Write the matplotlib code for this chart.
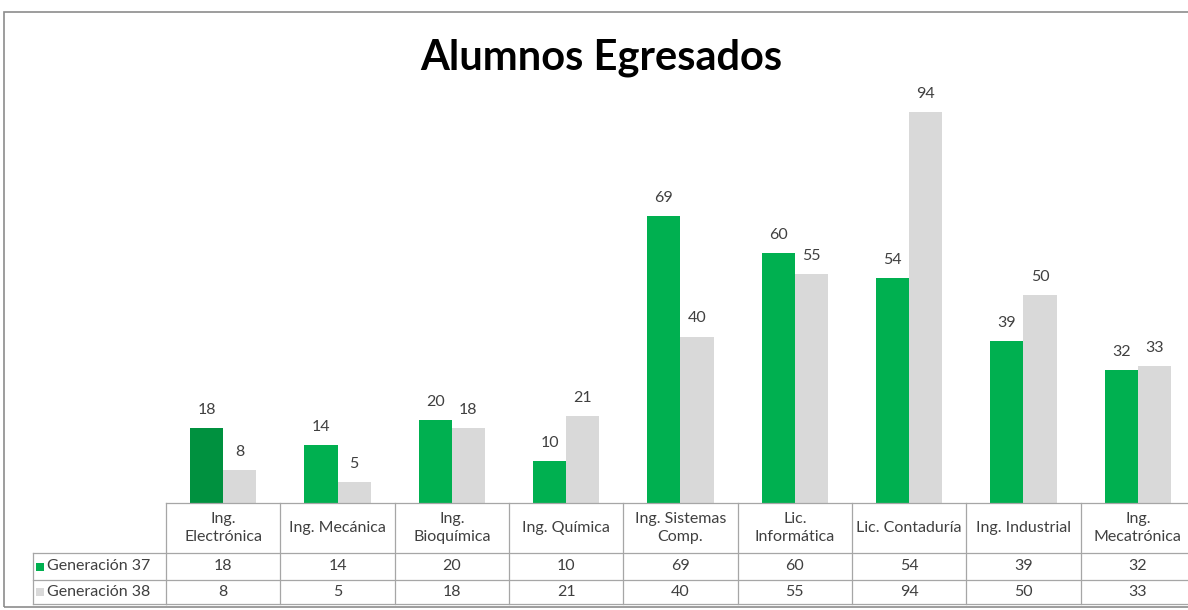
import matplotlib
matplotlib.use("Agg")
import matplotlib.pyplot as plt
from matplotlib.patches import Rectangle
import matplotlib.transforms as mtransforms

categories = ["Ing.\nElectrónica", "Ing. Mecánica", "Ing.\nBioquímica", "Ing. Química",
              "Ing. Sistemas\nComp.", "Lic.\nInformática", "Lic. Contaduría",
              "Ing. Industrial", "Ing.\nMecatrónica"]
series_names = ["Generación 37", "Generación 38"]
gen37 = [18, 14, 20, 10, 69, 60, 54, 39, 32]
gen38 = [8, 5, 18, 21, 40, 55, 94, 50, 33]

GREEN = "#00B050"
GREEN_SEL = "#00913F"
GRAY = "#D9D9D9"
LINE = "#A6A6A6"
TXT = "#404040"
FONT = "Lato"

W, H = 1188, 610
fig = plt.figure(figsize=(W / 100, H / 100), dpi=100)

def fx(px):
    return px / W

def fy(py):
    return 1 - py / H

# chart border
fig.patches.append(Rectangle((fx(4), fy(607)), fx(1300), fy(12) - fy(607),
                             transform=fig.transFigure, fill=False,
                             edgecolor="#8C8C8C", linewidth=1.2))

left, right, top, bottom = 166, 1195, 87, 503
ax = fig.add_axes([fx(left), fy(bottom), fx(right - left), fy(top) - fy(bottom)])
n = len(categories)
ax.set_xlim(-0.5, n - 0.5)
ax.set_ylim(0, 100)
ax.axis("off")

bw = 0.29
x = list(range(n))
b1 = ax.bar([i - bw / 2 for i in x], gen37, width=bw, color=GREEN, linewidth=0)
b1[0].set_color(GREEN_SEL)
b2 = ax.bar([i + bw / 2 for i in x], gen38, width=bw, color=GRAY, linewidth=0)
for bars, vals in ((b1, gen37), (b2, gen38)):
    for r, v in zip(bars, vals):
        ax.annotate(str(v), (r.get_x() + r.get_width() / 2, v), xytext=(0, 8),
                    textcoords="offset points", ha="center", va="bottom",
                    fontsize=11.5, color=TXT, family=FONT)

fig.text(0.5 * (422 + 780) / W, fy(58), "Alumnos Egresados", ha="center", va="center",
         fontsize=30, fontweight="bold", color="black", family=FONT)

# data table
trans = mtransforms.blended_transform_factory(ax.transData, fig.transFigure)
y_hdr_top, y_r1, y_r2, y_bot = 503, 553, 580, 604
lw = 0.9
for yy in (y_hdr_top, y_r1, y_r2, y_bot):
    ax.plot([-0.5, n - 0.5], [fy(yy), fy(yy)], transform=trans, color=LINE,
            linewidth=lw, clip_on=False)
for yy in (y_r1, y_r2, y_bot):
    fig.add_artist(plt.Line2D([fx(33), fx(left)], [fy(yy), fy(yy)],
                              transform=fig.transFigure, color=LINE, linewidth=lw))
fig.add_artist(plt.Line2D([fx(33), fx(33)], [fy(y_r1), fy(y_bot)],
                          transform=fig.transFigure, color=LINE, linewidth=lw))
for k in range(n + 1):
    ax.plot([k - 0.5, k - 0.5], [fy(y_hdr_top), fy(y_bot)], transform=trans,
            color=LINE, linewidth=lw, clip_on=False)

TS = 11.5
for i, c in enumerate(categories):
    ax.text(i, fy((y_hdr_top + y_r1) / 2), c, transform=trans, ha="center",
            va="center", fontsize=TS, color=TXT, family=FONT, linespacing=1.3)
    ax.text(i, fy((y_r1 + y_r2) / 2), str(gen37[i]), transform=trans, ha="center",
            va="center", fontsize=TS, color=TXT, family=FONT)
    ax.text(i, fy((y_r2 + y_bot) / 2), str(gen38[i]), transform=trans, ha="center",
            va="center", fontsize=TS, color=TXT, family=FONT)

for yy0, yy1, name, col in ((y_r1, y_r2, series_names[0], GREEN),
                            (y_r2, y_bot, series_names[1], GRAY)):
    yc = (yy0 + yy1) / 2
    fig.patches.append(Rectangle((fx(36), fy(yc + 4)), fx(8), fy(yc - 4) - fy(yc + 4),
                                 transform=fig.transFigure, color=col, linewidth=0))
    fig.text(fx(47), fy(yc), name, ha="left", va="center", fontsize=TS,
             color=TXT, family=FONT)

fig.savefig("out.png", dpi=100)
